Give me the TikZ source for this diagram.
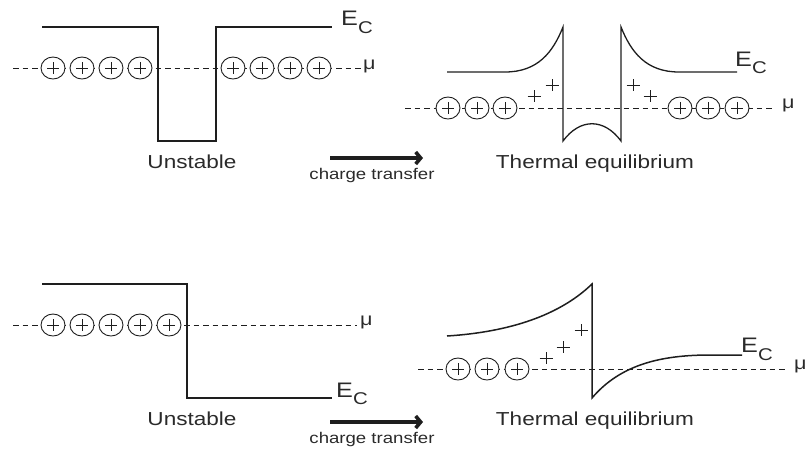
\documentclass[tikz,border=0pt]{standalone}
\usepackage{fontspec}
\setmainfont{Liberation Sans}
\usetikzlibrary{arrows.meta}
\definecolor{ink}{HTML}{1E1E1E}
\definecolor{txt}{HTML}{2A2A2A}
\begin{document}
\begin{tikzpicture}[x=1pt,y=-1pt,
  band/.style={draw=ink, line width=1.3pt},
  muline/.style={draw=ink, line width=1pt, dash pattern=on 5.5pt off 4pt},
  lbl/.style={text=txt, inner sep=0pt, xscale=1.2, font=\fontsize{18.8}{22}\selectfont},
  smalllbl/.style={text=txt, inner sep=0pt, xscale=1.2, font=\fontsize{15.5}{18}\selectfont},
  eclbl/.style={text=txt, inner sep=0pt, xscale=1.2, anchor=base west, font=\fontsize{21}{24}\selectfont},
  mulbl/.style={text=txt, inner sep=0pt, xscale=1.2, anchor=base west, font=\fontsize{18}{20}\selectfont},
  transfer/.style={draw=ink, line width=3.6pt, -{Straight Barb[length=5pt,width=12pt]}},
  cplus/.pic={\draw[draw=ink, fill=white, line width=0.9pt] (0,0) ellipse [x radius=12, y radius=11];
              \draw[ink, line width=0.9pt] (-6,0) -- (6,0) (0,-6) -- (0,6);},
  bareplus/.pic={\draw[ink, line width=1pt] (-6.5,0) -- (6.5,0) (0,-6) -- (0,6);},
]
\useasboundingbox (0,0) rectangle (806,451);
\newcommand{\ecsub}[1]{E\raisebox{-#1pt}{\fontsize{17}{17}\selectfont C}}

% ===== Top left: unstable =====
\draw[muline] (13,68) -- (362,68);
\draw[band] (42,27) -- (158,27) -- (158,141) -- (216,141) -- (216,27) -- (332,27);
\foreach \x in {53,82,111,140,233,262,290,319} \pic at (\x,68) {cplus};
\node[eclbl] (ec1) at (341,25) {\ecsub{8}};
\node[mulbl] (mu1) at (363,69) {μ};
\node[lbl, anchor=base] (un1) at (192,168) {Unstable};

% arrow 1
\coordinate (a1s) at (330,158);
\coordinate (a1e) at (423,158);
\draw[transfer] (a1s) -- (a1e);
\node[smalllbl, anchor=base] (ct1) at (372,179) {charge transfer};

% ===== Top right: thermal equilibrium =====
\draw[muline] (405,108) -- (773,108);
\draw[band] (447,72) -- (505,72) .. controls (538,72) and (553,52) .. (563,27)
  -- (563,141) .. controls (580,118) and (604,118) .. (621,141)
  -- (621,27) .. controls (631,52) and (646,72) .. (679,72) -- (737,72);
\foreach \x in {448,477,505,680,708,737} \pic at (\x,108) {cplus};
\pic at (534,96) {bareplus};
\pic at (552,85) {bareplus};
\pic at (633,85) {bareplus};
\pic at (650,96) {bareplus};
\node[eclbl] (ec2) at (735,66) {\ecsub{7}};
\node[mulbl] (mu2) at (782,108) {μ};
\node[lbl, anchor=base] (te1) at (595,168) {Thermal equilibrium};

% ===== Bottom left: unstable =====
\draw[muline] (13,325) -- (357,325);
\draw[band, line width=1.6pt] (42,284) -- (187,284) -- (187,398) -- (332,398);
\foreach \x in {53,82,111,140,169} \pic at (\x,325) {cplus};
\node[eclbl] (ec3) at (336,397) {\ecsub{7}};
\node[mulbl] (mu3) at (360,325) {μ};
\node[lbl, anchor=base] (un2) at (192,425) {Unstable};

% arrow 2
\coordinate (a2s) at (330,422);
\coordinate (a2e) at (423,422);
\draw[transfer] (a2s) -- (a2e);
\node[smalllbl, anchor=base] (ct2) at (372,443) {charge transfer};

% ===== Bottom right: thermal equilibrium =====
\draw[muline] (418,369) -- (785,369);
\draw[band, line width=1.5pt] (447,336) .. controls (510,332) and (560,315) .. (592,284)
  -- (592,398) .. controls (620,365) and (660,355) .. (710,355) -- (742,355);
\foreach \x in {458,487,517} \pic at (\x,369) {cplus};
\pic at (546,358) {bareplus};
\pic at (563,347) {bareplus};
\pic at (581,330) {bareplus};
\node[eclbl] (ec4) at (741,352) {\ecsub{8}};
\node[mulbl] (mu4) at (794,369) {μ};
\node[lbl, anchor=base] (te2) at (595,425) {Thermal equilibrium};
\end{tikzpicture}
\end{document}
